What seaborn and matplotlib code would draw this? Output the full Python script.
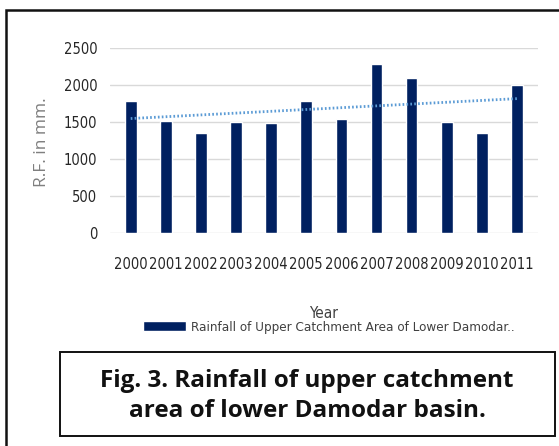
import numpy as np
import pandas as pd
import matplotlib
matplotlib.use("Agg")
import matplotlib.pyplot as plt
import matplotlib.patches as mpatches
from matplotlib import font_manager
import seaborn as sns

# data
years = ["2000", "2001", "2002", "2003", "2004", "2005",
         "2006", "2007", "2008", "2009", "2010", "2011"]
rainfall = [1780, 1520, 1350, 1500, 1480, 1790,
            1540, 2280, 2090, 1500, 1345, 2000]
y_ticks = [0, 500, 1000, 1500, 2000, 2500]
series_label = "Rainfall of Upper Catchment Area of Lower Damodar.."
caption = "Fig. 3. Rainfall of upper catchment\narea of lower Damodar basin."

W, H = 559, 446


def fx(x):
    return x / W


def fy(y):
    return 1 - y / H


sns.set_theme(style="white")
plt.rcParams["font.family"] = ["DejaVu Sans"]

# narrow font for the Excel-like tick labels
names = {f.name for f in font_manager.fontManager.ttflist}
if "Liberation Sans Narrow" in names:
    cond = dict(family="Liberation Sans Narrow")
    tick_size = 12.5
else:
    cond = dict(family="DejaVu Sans", stretch="condensed")
    tick_size = 10.5
cond_fp = font_manager.FontProperties(size=tick_size, **cond)

df = pd.DataFrame({"Year": years, "Rainfall": rainfall})

fig = plt.figure(figsize=(W / 100, H / 100), dpi=100)
ax = fig.add_axes([fx(110), fy(233), fx(538) - fx(110), fy(48) - fy(233)])

sns.barplot(data=df, x="Year", y="Rainfall", color="#002060", width=0.33,
            saturation=1, ax=ax, label=series_label, zorder=3)

# linear trend line
xs = np.arange(len(rainfall))
slope, icpt = np.polyfit(xs, rainfall, 1)
ax.plot(xs, slope * xs + icpt, color="#5b9bd5", lw=2.0,
        linestyle=(0, (0.6, 0.8)), zorder=4)

ax.set_ylim(0, 2500)
ax.set_xlim(-0.59, 11.6)
ax.set_yticks(y_ticks)
ax.yaxis.grid(True, color="#d9d9d9", lw=1)
ax.set_axisbelow(True)
for s in ax.spines.values():
    s.set_visible(False)
ax.tick_params(axis="y", length=0, pad=9, labelcolor="#262626")
ax.tick_params(axis="x", length=0, pad=17, labelcolor="#262626")
for lab in ax.get_xticklabels() + ax.get_yticklabels():
    lab.set_fontproperties(cond_fp)

ax.set_xlabel("")
ax.set_ylabel("R.F. in mm.", color="#7f7f7f", fontsize=12.5,
              family="Open Sans")
ax.yaxis.set_label_coords(-0.14, 0.49)

fig.text(fx(324), fy(313), "Year", ha="center", va="center",
         color="#404040", fontproperties=font_manager.FontProperties(size=11, **cond))

handles, labels = ax.get_legend_handles_labels()
if ax.get_legend() is not None:
    ax.get_legend().remove()
fig.legend(handles[:1], labels[:1], loc="center left",
           bbox_to_anchor=(fx(143), fy(327)), frameon=False,
           borderpad=0, borderaxespad=0, handlelength=3.2, handleheight=0.8,
           handletextpad=0.4, prop=font_manager.FontProperties(size=9.6, **cond),
           labelcolor="#404040")

# outer frame and caption box
fig.patches.append(mpatches.Rectangle((fx(6), fy(470)), fx(600) - fx(6), fy(10) - fy(470),
                                      transform=fig.transFigure, fill=False,
                                      edgecolor="#111111", lw=1.8))
fig.patches.append(mpatches.Rectangle((fx(60), fy(436)), fx(555) - fx(60), fy(352) - fy(436),
                                      transform=fig.transFigure, fill=False,
                                      edgecolor="#111111", lw=1.4))
fig.text(fx(307), fy(396), caption, ha="center", va="center", fontsize=17.5,
         fontweight="bold", family="Open Sans", color="#111111", linespacing=1.3)

fig.savefig("out.png", dpi=100)
